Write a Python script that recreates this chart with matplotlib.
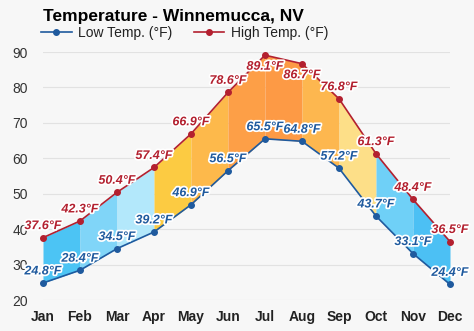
import matplotlib.pyplot as plt
import matplotlib.patheffects as pe

months = ["Jan", "Feb", "Mar", "Apr", "May", "Jun",
          "Jul", "Aug", "Sep", "Oct", "Nov", "Dec"]
low_temps = [24.8, 28.4, 34.5, 39.2, 46.9, 56.5, 65.5, 64.8, 57.2, 43.7, 33.1, 24.4]
high_temps = [37.6, 42.3, 50.4, 57.4, 66.9, 78.6, 89.1, 86.7, 76.8, 61.3, 48.4, 36.5]
# fill colour for the band between one month and the next
band_colors = ["#4cc4f4", "#80d5f8", "#b3e8fb", "#fccb42", "#fdb94b", "#fd9f47",
               "#fd9a45", "#fdb74f", "#fddf88", "#6fd0f7", "#4cc0f4"]
# months whose high label sits under the point
high_below = ["Jul", "Aug"]

low_color = "#1f5a9e"
high_color = "#b3202f"
bg = "#f7f7f7"

plt.rcParams["font.family"] = ["Liberation Sans", "DejaVu Sans"]

fig = plt.figure(figsize=(4.74, 3.31), dpi=100, facecolor=bg)
ax = fig.add_axes([43 / 474, 31 / 331, 407 / 474, 248 / 331])
ax.set_facecolor(bg)

x = list(range(len(months)))
for i, c in enumerate(band_colors):
    ax.fill_between(x[i:i + 2], low_temps[i:i + 2], high_temps[i:i + 2],
                    color=c, linewidth=0, zorder=2)

ax.plot(x, low_temps, color=low_color, lw=1.2, marker="o", ms=4,
        label="Low Temp. (°F)", zorder=4, clip_on=False)
ax.plot(x, high_temps, color=high_color, lw=1.2, marker="o", ms=4,
        label="High Temp. (°F)", zorder=4, clip_on=False)

stroke = [pe.withStroke(linewidth=2.5, foreground="white")]
for i, m in enumerate(months):
    ax.annotate(f"{low_temps[i]}°F", (i, low_temps[i]), xytext=(0, 4),
                textcoords="offset points", ha="center", va="bottom",
                fontsize=9, fontweight="bold", fontstyle="italic",
                color=low_color, path_effects=stroke, zorder=5)
    if m in high_below:
        dy, va = -4, "top"
    else:
        dy, va = 4, "bottom"
    ax.annotate(f"{high_temps[i]}°F", (i, high_temps[i]), xytext=(0, dy),
                textcoords="offset points", ha="center", va=va,
                fontsize=9, fontweight="bold", fontstyle="italic",
                color=high_color, path_effects=stroke, zorder=5)

ax.set_xlim(0, 11)
ax.set_ylim(20, 90)
ax.set_xticks(x)
ax.set_xticklabels(months, fontweight="bold", fontsize=10, color="#222222")
ax.set_yticks(range(20, 91, 10))
ax.tick_params(axis="y", labelsize=10, labelcolor="#333333", length=0, pad=11)
ax.tick_params(axis="x", length=0, pad=7)
ax.grid(axis="y", color="#e2e2e2", lw=0.8, zorder=0)
for s in ax.spines.values():
    s.set_visible(False)

fig.text(43 / 474, 1 - 16 / 331, "Temperature - Winnemucca, NV",
         fontsize=12.5, fontweight="bold", va="center", ha="left")
ax.legend(loc="lower left", bbox_to_anchor=(-0.005, 1.05), ncol=2,
          frameon=False, fontsize=10, handlelength=2.2, borderaxespad=0,
          borderpad=0, columnspacing=1.5, handletextpad=0.5,
          labelcolor="#222222")

fig.savefig("out.png", dpi=100, facecolor=bg)
